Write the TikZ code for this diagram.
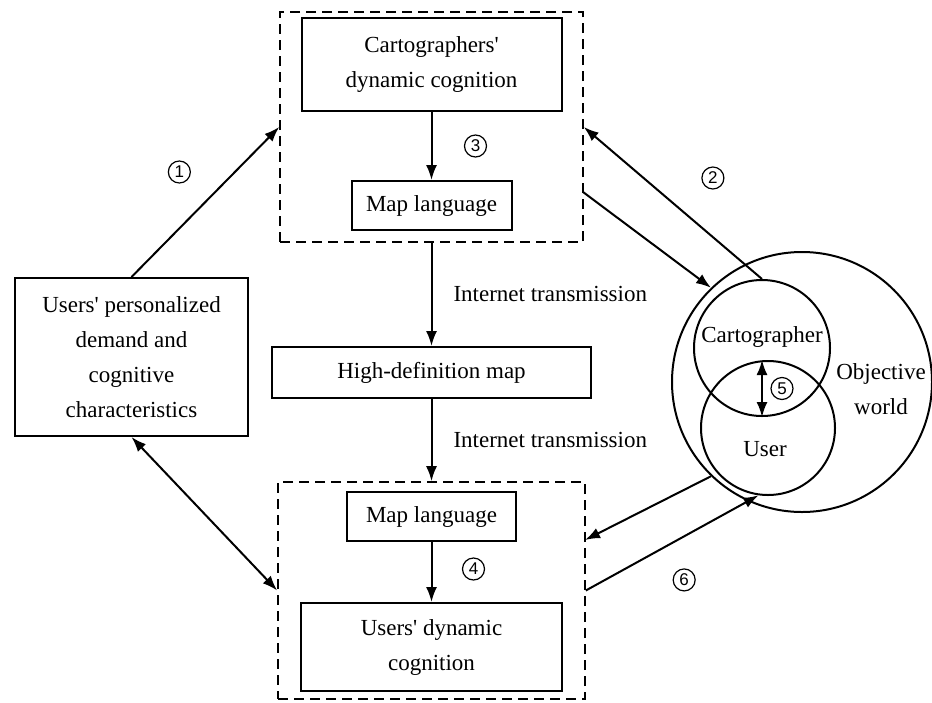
\documentclass[tikz,border=0pt]{standalone}
\usepackage{fontspec}
\setmainfont{Liberation Serif}
\newfontfamily\numfont{Liberation Sans}
\usetikzlibrary{arrows.meta, positioning, calc}
\tikzset{
  boxnode/.style={rectangle, draw, line width=2pt, align=center, inner sep=0pt, font=\fontsize{23}{35}\selectfont},
  groupbox/.style={rectangle, draw, dash pattern=on 10pt off 6pt, line width=1.6pt, inner sep=0pt},
  circnode/.style={circle, draw, line width=2pt, inner sep=0pt, minimum size=#1},
  textlabel/.style={align=center, inner sep=0pt, font=\fontsize{23}{35}\selectfont},
  numlabel/.style={circle, draw, line width=1.2pt, inner sep=0pt, minimum size=22pt, font=\numfont\fontsize{17}{17}\selectfont},
  flow/.style={line width=2pt, -{Latex[length=15pt, width=11pt]}},
  dflow/.style={line width=2pt, {Latex[length=15pt, width=11pt]}-{Latex[length=15pt, width=11pt]}},
}
\begin{document}
\begin{tikzpicture}[x=1pt, y=-1pt]
\useasboundingbox (0,0) rectangle (932,702);
% dashed groups
\node[groupbox, minimum width=303pt, minimum height=230pt] (topgrp) at (431.5,127) {};
\node[groupbox, minimum width=307pt, minimum height=217pt] (botgrp) at (431.5,590.5) {};
% boxes
\node[boxnode, minimum width=260pt, minimum height=93pt] (cartdyn) at (431.5,64.5) {Cartographers\textquotesingle\\dynamic cognition};
\node[boxnode, minimum width=160pt, minimum height=49pt] (maptop) at (431.5,205.5) {Map language};
\node[boxnode, minimum width=319pt, minimum height=51pt] (hdmap) at (431.5,372.5) {High-definition map};
\node[boxnode, minimum width=169pt, minimum height=49pt] (mapbot) at (431.5,516.5) {Map language};
\node[boxnode, minimum width=261pt, minimum height=88pt] (userdyn) at (431.5,647) {Users\textquotesingle{} dynamic\\cognition};
\node[boxnode, minimum width=233pt, minimum height=158pt] (demand) at (131.5,357) {Users\textquotesingle{} personalized\\demand and\\cognitive\\characteristics};
% circles
\node[circnode=260pt] (world) at (802,382) {};
\node[circnode=136pt] (cart) at (762,348) {};
\node[circnode=134pt] (user) at (768,428) {};
\node[textlabel] (carttxt) at (762,337) {Cartographer};
\node[textlabel] (usertxt) at (765,449) {User};
\node[textlabel] (worldtxt) at (881,389) {Objective\\world};
% connectors
\coordinate (toprt) at (583,192);
\coordinate (botrt) at (585,540);
\draw[flow] (cartdyn) -- (maptop) node[midway, xshift=44pt, numlabel] {3};
\draw[flow] (topgrp.south) -- (hdmap.north) node[midway, right=21pt, textlabel] {Internet transmission};
\draw[flow] (hdmap.south) -- (botgrp.north) node[midway, right=21pt, textlabel] {Internet transmission};
\draw[flow] (mapbot) -- (userdyn) node[midway, xshift=42pt, yshift=3pt, numlabel] {4};
\draw[flow] (demand.north) -- (topgrp.west) node[midway, xshift=-26pt, yshift=30pt, numlabel] {1};
\draw[dflow] (demand.south) -- (botgrp.west);
\draw[flow] (cart.north) -- (topgrp.east) node[midway, xshift=40pt, yshift=25pt, numlabel] {2};
\draw[flow] (toprt) -- (world.134);
\draw[flow] (world.226) -- (botrt);
\draw[flow] (botgrp.east) -- (user.262) node[midway, xshift=12pt, yshift=-37pt, numlabel] {6};
\draw[dflow] (cart.south) -- (cart.south |- user.north) node[midway, xshift=20pt, numlabel] {5};
\end{tikzpicture}
\end{document}
